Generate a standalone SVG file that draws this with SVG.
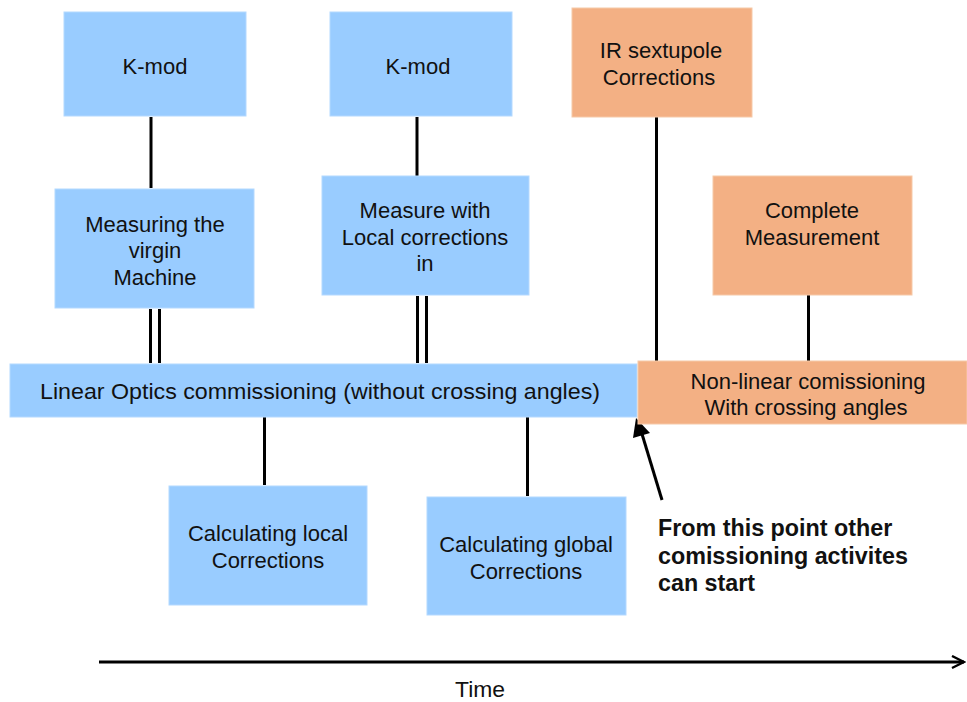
<svg xmlns="http://www.w3.org/2000/svg" width="967" height="702" viewBox="0 0 967 702">
<style>
.b{fill:#99CCFF;stroke:#B4D9FF;stroke-width:1}
.o{fill:#F3B084;stroke:#F6C9A8;stroke-width:1}
text{font-family:"Liberation Sans",Arial,sans-serif;font-size:22px;fill:#111;text-anchor:middle}
.bold{font-weight:bold;text-anchor:start;font-size:23.3px}
.l{stroke:#000;stroke-width:3;fill:none}
</style>
<defs>
<marker id="chev" viewBox="0 0 10 10" refX="9" refY="5" markerWidth="5" markerHeight="5" orient="auto" markerUnits="strokeWidth"><path d="M1,1 L9,5 L1,9" fill="none" stroke="#000" stroke-width="1.6"/></marker>
</defs>
<rect width="967" height="702" fill="#fff"/>
<g id="connectors">
<line class="l" x1="151" y1="117" x2="151" y2="188"/>
<line class="l" x1="417" y1="117" x2="417" y2="176"/>
<line class="l" x1="150.5" y1="309" x2="150.5" y2="363"/>
<line class="l" x1="159.5" y1="309" x2="159.5" y2="363"/>
<line class="l" x1="417.5" y1="296" x2="417.5" y2="363"/>
<line class="l" x1="426.5" y1="296" x2="426.5" y2="363"/>
<line class="l" x1="264.5" y1="410" x2="264.5" y2="485"/>
<line class="l" x1="527.5" y1="410" x2="527.5" y2="496"/>
<line class="l" x1="656.5" y1="117" x2="656.5" y2="361"/>
<line class="l" x1="808.5" y1="295" x2="808.5" y2="361"/>
<line class="l" x1="662" y1="500" x2="642" y2="434" stroke-width="5"/>
<path d="M636,418 L650,433 L633,438 z" fill="#000"/>
<line class="l" x1="99" y1="662" x2="964" y2="662" stroke-width="4" marker-end="url(#chev)"/>
</g>
<g id="kmod1"><rect class="b" x="64" y="12" width="182" height="104"/><text x="155" y="74">K-mod</text></g>
<g id="kmod2"><rect class="b" x="330" y="12" width="182" height="104"/><text x="418" y="74">K-mod</text></g>
<g id="ir"><rect class="o" x="572" y="8" width="180" height="109"/><text x="661" y="58">IR sextupole</text><text x="659" y="85">Corrections</text></g>
<g id="virgin"><rect class="b" x="55" y="189" width="199" height="119"/><text x="155" y="232">Measuring the</text><text x="155" y="258">virgin</text><text x="155" y="285">Machine</text></g>
<g id="local"><rect class="b" x="322" y="176" width="207" height="119"/><text x="425" y="218">Measure with</text><text x="425" y="245">Local corrections</text><text x="425" y="271">in</text></g>
<g id="complete"><rect class="o" x="713" y="176" width="199" height="119"/><text x="812" y="218">Complete</text><text x="812" y="245">Measurement</text></g>
<g id="linear"><rect class="b" x="10" y="364" width="627" height="53"/><text x="320" y="399" textLength="560" lengthAdjust="spacingAndGlyphs">Linear Optics commissioning (without crossing angles)</text></g>
<g id="nonlinear"><rect class="o" x="638" y="361" width="329" height="63"/><text x="808" y="389">Non-linear comissioning</text><text x="806" y="415">With crossing angles</text></g>
<g id="calclocal"><rect class="b" x="169" y="486" width="198" height="119"/><text x="268" y="541">Calculating local</text><text x="268" y="568">Corrections</text></g>
<g id="calcglobal"><rect class="b" x="427" y="497" width="199" height="118"/><text x="526" y="552">Calculating global</text><text x="526" y="579">Corrections</text></g>
<g id="note"><text class="bold" x="658" y="536">From this point other</text><text class="bold" x="658" y="564">comissioning activites</text><text class="bold" x="658" y="591">can start</text></g>
<g id="time"><text x="480" y="697" font-size="20" textLength="50" lengthAdjust="spacingAndGlyphs">Time</text></g>
</svg>
